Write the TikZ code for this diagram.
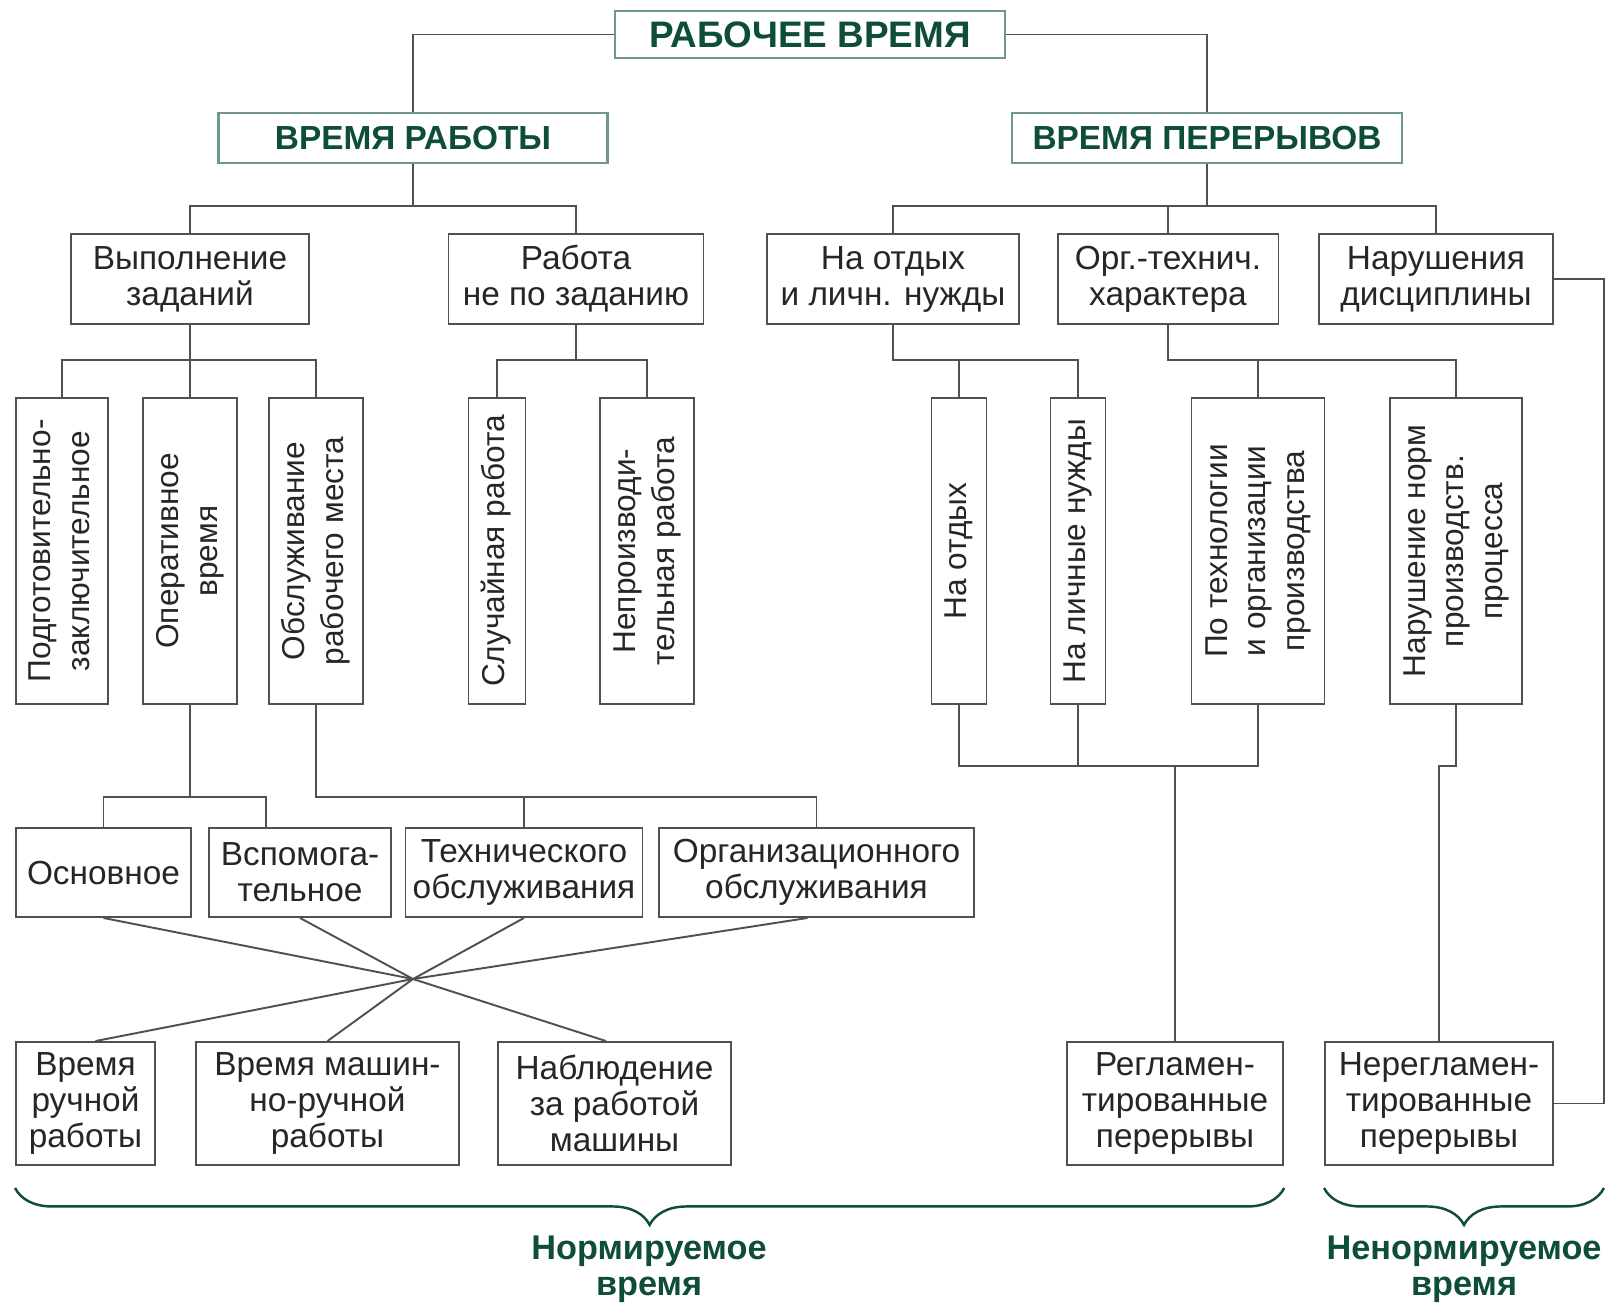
\documentclass[tikz,border=0pt]{standalone}
\usepackage{fontspec}
\setmainfont{Liberation Sans}
\usepackage{graphicx}
\usetikzlibrary{decorations.pathreplacing}

\definecolor{hdrgreen}{HTML}{0E4D3A}
\definecolor{hdrframe}{HTML}{6F978A}
\definecolor{boxgray}{HTML}{505050}

\newcommand{\vlabel}[1]{\rotatebox{90}{\fontsize{18}{22}\selectfont\begin{tabular}{@{}c@{}}#1\end{tabular}}}

\tikzset{
  box/.style={draw=boxgray, line width=1.1pt, inner sep=0pt, align=center,
    text=black!85, font=\fontsize{19}{20.5}\selectfont},
  hdr/.style={draw=hdrframe, line width=1.3pt, inner sep=0pt, text=hdrgreen,
    font=\fontsize{19}{22}\selectfont\bfseries},
  link/.style={boxgray, line width=1.1pt},
  nbrace/.style={hdrgreen, line width=1.4pt, decorate,
    decoration={brace, mirror, amplitude=0.74cm}},
  sumlbl/.style={align=center, text=hdrgreen, font=\fontsize{19.5}{20.5}\selectfont\bfseries},
}

\begin{document}
\begin{tikzpicture}[x=0.02cm, y=-0.02cm]
  \useasboundingbox (0,0) rectangle (1619,1302);

  % headers
  \node[hdr, minimum width=7.8cm, minimum height=0.94cm, font=\fontsize{21}{22}\selectfont\bfseries] (total) at (810,34.5) {РАБОЧЕЕ ВРЕМЯ};
  \node[hdr, minimum width=7.78cm, minimum height=1cm] (work) at (413,138) {ВРЕМЯ РАБОТЫ};
  \node[hdr, minimum width=7.8cm, minimum height=1cm] (pause) at (1207,138) {ВРЕМЯ ПЕРЕРЫВОВ};

  % second level
  \node[box, minimum width=4.76cm, minimum height=1.8cm] (task) at (190,279) {Выполнение\\заданий};
  \node[box, minimum width=5.1cm, minimum height=1.8cm] (notask) at (576,279) {Работа\\не по заданию};
  \node[box, minimum width=5.04cm, minimum height=1.8cm] (rest) at (893,279) {На отдых\\и личн. нужды};
  \node[box, minimum width=4.42cm, minimum height=1.8cm] (org) at (1168,279) {Орг.-технич.\\характера};
  \node[box, minimum width=4.68cm, minimum height=1.8cm] (disc) at (1436,279) {Нарушения\\дисциплины};

  % vertical boxes
  \node[box, minimum width=1.84cm, minimum height=6.12cm] (prep) at (62,551) {\vlabel{Подготовительно-\\заключительное}};
  \node[box, minimum width=1.88cm, minimum height=6.12cm] (oper) at (190,551) {\vlabel{Оперативное\\время}};
  \node[box, minimum width=1.88cm, minimum height=6.12cm] (serv) at (316,551) {\vlabel{Обслуживание\\рабочего места}};
  \node[box, minimum width=1.14cm, minimum height=6.12cm] (rand) at (497,551) {\vlabel{Случайная работа}};
  \node[box, minimum width=1.88cm, minimum height=6.12cm] (unprod) at (647,551) {\vlabel{Непроизводи-\\тельная работа}};
  \node[box, minimum width=1.1cm, minimum height=6.12cm] (relax) at (959,551) {\vlabel{На отдых}};
  \node[box, minimum width=1.1cm, minimum height=6.12cm] (needs) at (1078,551) {\vlabel{На личные нужды}};
  \node[box, minimum width=2.66cm, minimum height=6.12cm] (techn) at (1258,551) {\vlabel{По технологии\\и организации\\производства}};
  \node[box, minimum width=2.64cm, minimum height=6.12cm] (viol) at (1456,551) {\vlabel{Нарушение норм\\производств.\\процесса}};

  % fourth level
  \node[box, minimum width=3.5cm, minimum height=1.78cm] (main) at (103.5,872.5) {Основное};
  \node[box, minimum width=3.64cm, minimum height=1.78cm] (aux) at (300,872.5) {Вспомога-\\тельное};
  \node[box, minimum width=4.74cm, minimum height=1.78cm] (techs) at (524,872.5) {Технического\\обслуживания};
  \node[box, minimum width=6.3cm, minimum height=1.78cm] (orgs) at (816.5,872.5) {Организационного\\обслуживания};

  % bottom level
  \node[box, minimum width=2.78cm, minimum height=2.46cm] (manual) at (85.5,1103.5) {Время\\ручной\\работы};
  \node[box, minimum width=5.26cm, minimum height=2.46cm] (mech) at (327.5,1103.5) {Время машин-\\но-ручной\\работы};
  \node[box, minimum width=4.66cm, minimum height=2.46cm] (watch) at (614.5,1103.5) {Наблюдение\\за работой\\машины};
  \node[box, minimum width=4.33cm, minimum height=2.46cm] (reg) at (1175,1103.5) {Регламен-\\тированные\\перерывы};
  \node[box, minimum width=4.56cm, minimum height=2.46cm] (unreg) at (1439,1103.5) {Нерегламен-\\тированные\\перерывы};

  % bus points
  \coordinate (wbus) at (413,206);
  \coordinate (pbus) at (1207,206);
  \coordinate (tbus) at (190,360);
  \coordinate (nbus) at (576,360);
  \coordinate (rbus) at (893,360);
  \coordinate (obus) at (1168,360);
  \coordinate (opbus) at (190,797);
  \coordinate (svbus) at (316,797);
  \coordinate (rgbus) at (1175,766);
  \coordinate (cross) at (413,979);

  % connectors
  \draw[link] (total.west) -| (work.north);
  \draw[link] (total.east) -| (pause.north);

  \draw[link] (work.south) -- (wbus);
  \draw[link] (task.north) |- (wbus) -| (notask.north);
  \draw[link] (pause.south) -- (pbus);
  \draw[link] (rest.north) |- (pbus) -| (disc.north);
  \draw[link] (org.north) -- (org.north |- pbus);

  \draw[link] (task.south) -- (oper.north);
  \draw[link] (prep.north) |- (tbus) -| (serv.north);
  \draw[link] (notask.south) -- (nbus);
  \draw[link] (unprod.north) |- (nbus) -| (rand.north);
  \draw[link] (rest.south) -- (rbus) -| (needs.north);
  \draw[link] (relax.north) -- (relax.north |- rbus);
  \draw[link] (org.south) -- (obus) -| (viol.north);
  \draw[link] (techn.north) -- (techn.north |- obus);

  \draw[link] (oper.south) -- (opbus);
  \draw[link] (main.north) |- (opbus) -| ([xshift=-0.68cm]aux.north);
  \draw[link] (serv.south) -- (svbus) -| (orgs.north);
  \draw[link] (techs.north) -- (techs.north |- svbus);

  \draw[link] (relax.south) |- (techn.south |- rgbus) -- (techn.south);
  \draw[link] (needs.south) -- (needs.south |- rgbus);
  \draw[link] (reg.north) -- (reg.north |- rgbus);
  \draw[link] (viol.south) -- (viol.south |- rgbus) -| (unreg.north);
  \draw[link] (disc.east) -| ([xshift=1cm]unreg.east) -- (unreg.east);

  % crossing lines
  \draw[link] (main.south) -- (cross);
  \draw[link] (aux.south) -- (cross);
  \draw[link] (techs.south) -- (cross);
  \draw[link] ([xshift=-0.18cm]orgs.south) -- (cross);
  \draw[link] (cross) -- ([xshift=0.2cm]manual.north);
  \draw[link] (cross) -- (mech.north);
  \draw[link] (cross) -- ([xshift=-0.17cm]watch.north);

  % braces
  \draw[nbrace] ([yshift=-0.44cm]manual.south west) -- ([yshift=-0.44cm]reg.south east);
  \draw[nbrace] ([yshift=-0.44cm]unreg.south west) -- ([xshift=1cm,yshift=-0.44cm]unreg.south east);

  % labels
  \node[sumlbl] (normed) at (649,1269) {Нормируемое\\время};
  \node[sumlbl] (unnormed) at (1464,1269) {Ненормируемое\\время};

\end{tikzpicture}
\end{document}
